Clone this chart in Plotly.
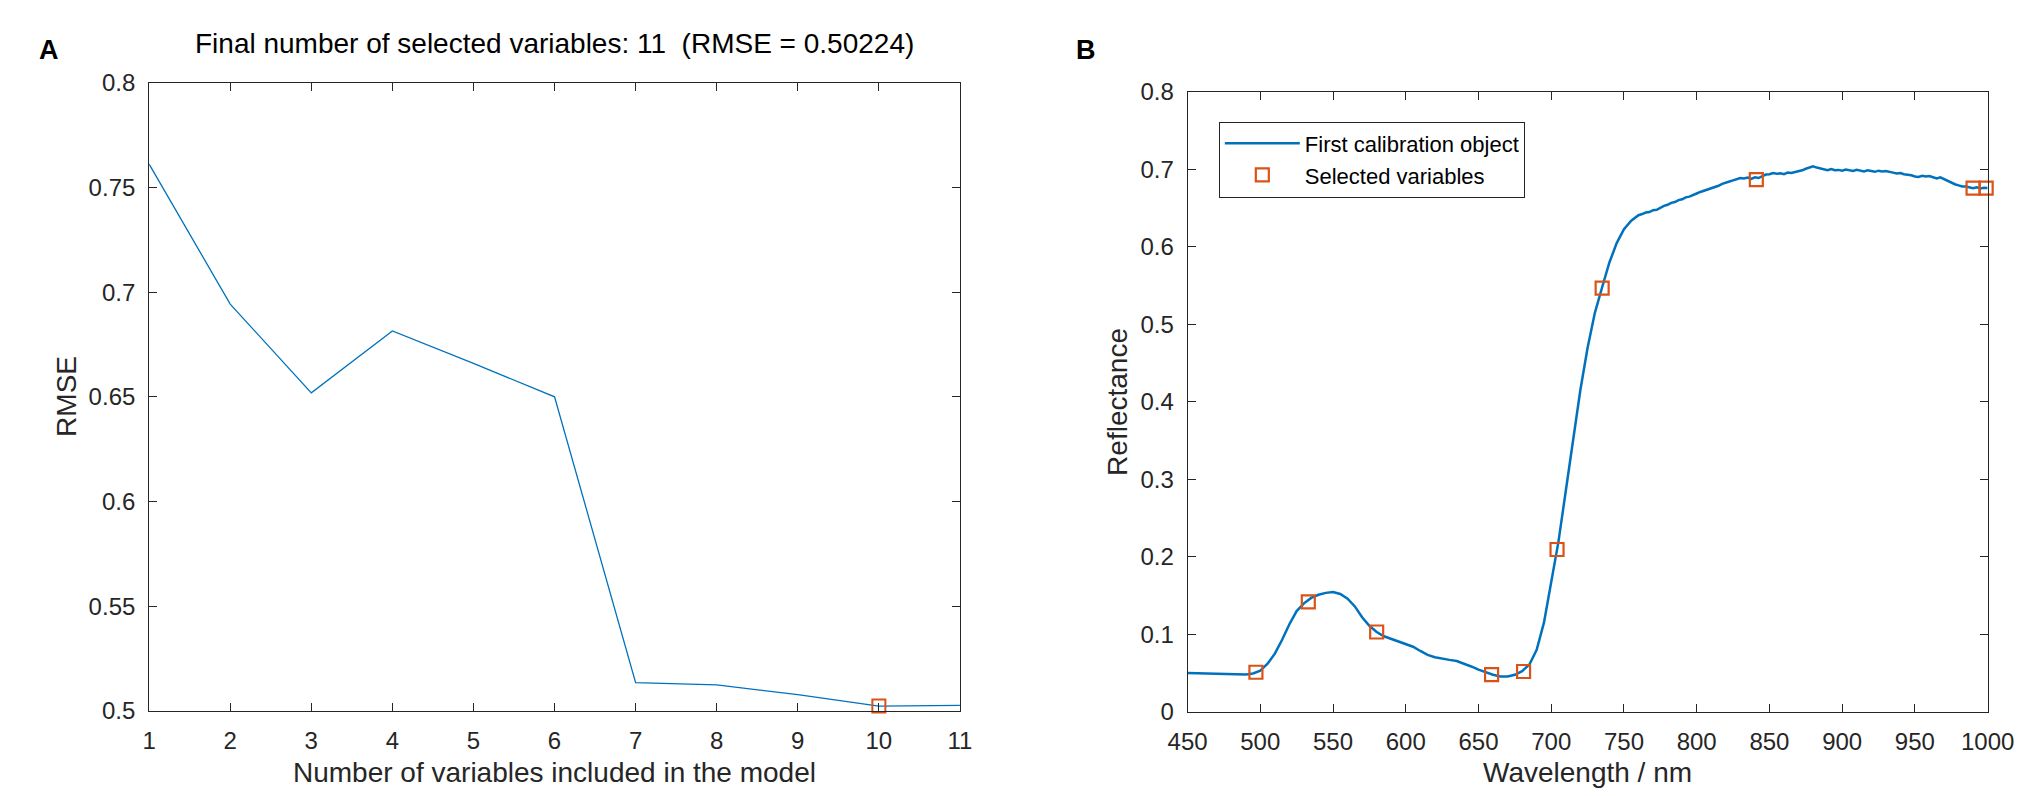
import plotly.graph_objects as go

FONT = "Liberation Sans, Arial, sans-serif"
AX_COLOR = "#262626"
BLUE = "#0072BD"
ORANGE = "#D95319"

# panel A: RMSE vs number of variables
n_vars = [1, 2, 3, 4, 5, 6, 7, 8, 9, 10, 11]
rmse = [0.7612, 0.6943, 0.6519, 0.6815, 0.6660, 0.6500, 0.5135, 0.5124, 0.5077, 0.50224, 0.5026]
best_n = [10]
best_rmse = [0.50224]

# panel B: spectrum of first calibration object
wavelength = [
    450, 455, 460, 465, 470, 475, 480, 485, 490, 495,
    500, 505, 510, 515, 520, 525, 530, 535, 540, 545,
    550, 555, 560, 565, 570, 575, 580, 585, 590, 595,
    600, 605, 610, 615, 620, 625, 630, 635, 640, 645,
    650, 655, 660, 665, 670, 675, 680, 685, 690, 695,
    700, 705, 710, 715, 720, 725, 730, 735, 740, 745,
    750, 755, 760, 762.5, 765, 767.5, 770, 772.5, 775, 777.5,
    780, 782.5, 785, 787.5, 790, 792.5, 795, 797.5, 800, 802.5,
    805, 807.5, 810, 812.5, 815, 817.5, 820, 822.5, 825, 827.5,
    830, 832.5, 835, 837.5, 840, 842.5, 845, 847.5, 850, 852.5,
    855, 857.5, 860, 862.5, 865, 867.5, 870, 872.5, 875, 877.5,
    880, 882.5, 885, 887.5, 890, 892.5, 895, 897.5, 900, 902.5,
    905, 907.5, 910, 912.5, 915, 917.5, 920, 922.5, 925, 927.5,
    930, 932.5, 935, 937.5, 940, 942.5, 945, 947.5, 950, 952.5,
    955, 957.5, 960, 962.5, 965, 967.5, 970, 972.5, 975, 977.5,
    980, 982.5, 985, 987.5, 990, 992.5, 995, 997.5, 1000,
]
reflectance = [
    0.0500, 0.0498, 0.0495, 0.0493, 0.0490, 0.0488, 0.0485, 0.0483, 0.0482, 0.0495,
    0.0530, 0.0620, 0.0750, 0.0930, 0.1130, 0.1300, 0.1400, 0.1470, 0.1510, 0.1535,
    0.1545, 0.1520, 0.1460, 0.1360, 0.1220, 0.1110, 0.1030, 0.0975, 0.0940, 0.0910,
    0.0880, 0.0840, 0.0785, 0.0735, 0.0705, 0.0685, 0.0670, 0.0655, 0.0625, 0.0585,
    0.0545, 0.0510, 0.0478, 0.0455, 0.0455, 0.0478, 0.0525, 0.0610, 0.0800, 0.1150,
    0.1650, 0.2200, 0.2850, 0.3500, 0.4150, 0.4700, 0.5150, 0.5480, 0.5800, 0.6050,
    0.6230, 0.6340, 0.6410, 0.6425, 0.6445, 0.6450, 0.6475, 0.6480, 0.6510, 0.6530,
    0.6545, 0.6570, 0.6580, 0.6605, 0.6615, 0.6640, 0.6650, 0.6675, 0.6690, 0.6710,
    0.6725, 0.6750, 0.6765, 0.6780, 0.6790, 0.6815, 0.6825, 0.6845, 0.6860, 0.6880,
    0.6890, 0.6885, 0.6895, 0.6880, 0.6900, 0.6890, 0.6910, 0.6935, 0.6940, 0.6955,
    0.6945, 0.6950, 0.6940, 0.6960, 0.6955, 0.6965, 0.6975, 0.6990, 0.7010, 0.7030,
    0.7040, 0.7025, 0.7010, 0.7000, 0.6990, 0.7005, 0.6990, 0.6995, 0.6985, 0.7000,
    0.6990, 0.6980, 0.6995, 0.6985, 0.6975, 0.6990, 0.6980, 0.6970, 0.6985, 0.6975,
    0.6980, 0.6965, 0.6960, 0.6950, 0.6955, 0.6940, 0.6935, 0.6925, 0.6910, 0.6905,
    0.6920, 0.6910, 0.6915, 0.6895, 0.6885, 0.6900, 0.6875, 0.6850, 0.6830, 0.6810,
    0.6795, 0.6780, 0.6780, 0.6765, 0.6760, 0.6770, 0.6755, 0.6765, 0.6760,
]
selected_wl = [497, 533, 580, 659, 681, 704, 735, 841, 990, 999]
selected_ref = [0.051, 0.142, 0.103, 0.048, 0.052, 0.2095, 0.547, 0.687, 0.676, 0.676]

W, H = 2033, 796


def px_x(p):
    return p / W


def px_y(p):
    return 1 - p / H


fig = go.Figure()

fig.add_trace(go.Scatter(x=n_vars, y=rmse, mode="lines", line=dict(color=BLUE, width=1.3),
                         xaxis="x", yaxis="y", showlegend=False))
fig.add_trace(go.Scatter(x=best_n, y=best_rmse, mode="markers", cliponaxis=False,
                         marker=dict(symbol="square-open", size=13, color=ORANGE, line=dict(width=2)),
                         xaxis="x", yaxis="y", showlegend=False))

fig.add_trace(go.Scatter(x=wavelength, y=reflectance, mode="lines", name="First calibration object",
                         line=dict(color=BLUE, width=2.5), xaxis="x2", yaxis="y2"))
fig.add_trace(go.Scatter(x=selected_wl, y=selected_ref, mode="markers", name="Selected variables",
                         cliponaxis=False,
                         marker=dict(symbol="square-open", size=13, color=ORANGE, line=dict(width=2.2)),
                         xaxis="x2", yaxis="y2"))

axis_style = dict(
    showline=True, linecolor=AX_COLOR, linewidth=1, mirror="allticks",
    ticks="inside", ticklen=8, tickwidth=1, tickcolor=AX_COLOR,
    showgrid=False, zeroline=False, ticklabelstandoff=8,
    tickfont=dict(family=FONT, size=24, color=AX_COLOR),
)

label_font = dict(family=FONT, size=28, color=AX_COLOR)


def label(text, x, y, angle=0, font=label_font):
    return dict(text=text, xref="paper", yref="paper", x=px_x(x), y=px_y(y),
                xanchor="center", yanchor="middle", textangle=angle,
                showarrow=False, font=font)


fig.update_layout(
    width=W, height=H, autosize=False,
    margin=dict(l=0, r=0, t=0, b=0),
    paper_bgcolor="white", plot_bgcolor="white",
    font=dict(family=FONT, color=AX_COLOR),
    xaxis=dict(axis_style, domain=[px_x(124), px_x(954)], anchor="y", range=[1, 11],
               tickvals=n_vars),
    yaxis=dict(axis_style, domain=[px_y(713), px_y(63)], anchor="x", range=[0.5, 0.8],
               dtick=0.05),
    xaxis2=dict(axis_style, domain=[px_x(1187), px_x(2006)], anchor="y2", range=[450, 1000],
                dtick=50),
    yaxis2=dict(axis_style, domain=[px_y(714), px_y(72.5)], anchor="x2", range=[0, 0.8],
                dtick=0.1),
    legend=dict(x=px_x(1219), y=px_y(103), xanchor="left", yanchor="top",
                bgcolor="white", bordercolor=AX_COLOR, borderwidth=1,
                font=dict(family=FONT, size=22, color="black"), itemwidth=75),
    annotations=[
        label("Final number of selected variables: 11 \u00a0(RMSE = 0.50224)", 539, 22,
              font=dict(family=FONT, size=28, color="black")),
        label("Number of variables included in the model", 539, 777),
        label("RMSE", 40, 388, angle=-90),
        label("Wavelength / nm", 1596, 777),
        label("Reflectance", 1115, 393, angle=-90),
        label("<b>A</b>", 22, 29, font=dict(family=FONT, size=27, color="black")),
        label("<b>B</b>", 1083, 29, font=dict(family=FONT, size=27, color="black")),
    ],
)

fig.write_html("out.html")
